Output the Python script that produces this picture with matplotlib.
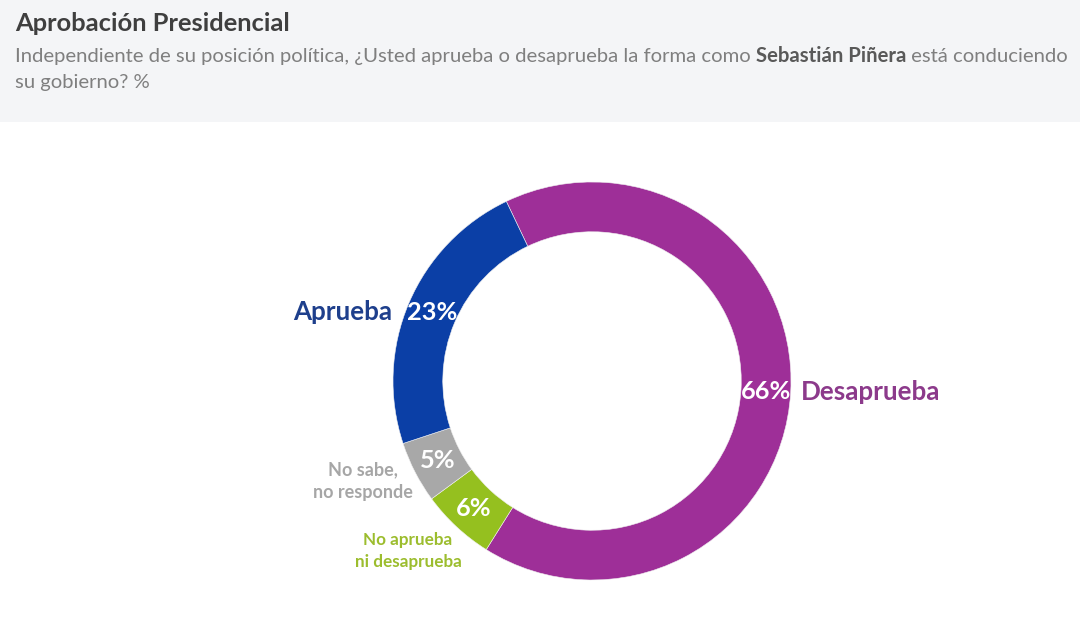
import matplotlib
matplotlib.use("Agg")
import matplotlib.pyplot as plt
from matplotlib.patches import Rectangle
import numpy as np

# ---- data ----
categories = ["Desaprueba", "No aprueba\nni desaprueba", "No sabe,\nno responde", "Aprueba"]
values = [66, 6, 5, 23]
pct_labels = ["66%", "6%", "5%", "23%"]
wedge_colors = ["#9e2f98", "#95c01f", "#a8a8a8", "#0b3fa6"]
label_colors = ["#8c3a8b", "#9cbd2e", "#a6a6a6", "#1e3f8c"]

title = "Aprobación Presidencial"
subtitle_parts = [("Independiente de su posición política, ¿Usted aprueba o desaprueba la forma como ", "normal"),
                  ("Sebastián Piñera", "bold"),
                  (" está conduciendo", "normal")]
subtitle_line2 = "su gobierno? %"

W, H = 1080, 634
FONT = "Lato"
fig = plt.figure(figsize=(W / 100, H / 100), dpi=100)
fig.patch.set_facecolor("white")

# header band
fig.patches.append(Rectangle((0, 1 - 122 / H), 1, 122 / H, transform=fig.transFigure,
                             facecolor="#f4f5f7", edgecolor="none", zorder=0))

renderer = fig.canvas.get_renderer()

def px(x, y):
    return x / W, 1 - y / H

def fit_text(x, y, s, target_w, size, **kw):
    t = fig.text(*px(x, y), s, fontsize=size, family=FONT, va="baseline", ha="left", **kw)
    w = t.get_window_extent(renderer).width
    t.set_fontsize(size * target_w / w)
    return t

fit_text(15, 31, title, 275, 17, color="#3f3f3f", fontweight="bold")

# subtitle line 1 in pieces
size_sub = 13.5
pieces = []
x = 15
for s, wgt in subtitle_parts:
    t = fig.text(*px(x, 62), s, fontsize=size_sub, family=FONT, va="baseline", ha="left",
                 color="#595959" if wgt == "bold" else "#7f7f7f", fontweight=wgt)
    pieces.append(t)
    x += t.get_window_extent(renderer).width
total = x - 15
scale = 1050 / total
x = 15
for t in pieces:
    t.set_fontsize(size_sub * scale)
    t.set_position(px(x, 62))
    x += t.get_window_extent(renderer).width
fig.text(*px(15, 88), subtitle_line2, fontsize=size_sub * scale, family=FONT,
         va="baseline", ha="left", color="#7f7f7f")

# ---- donut ----
cx, cy, R = 592, 381, 199
ax = fig.add_axes([(cx - R) / W, (H - cy - R) / H, 2 * R / W, 2 * R / H])
wedges, texts = ax.pie(values, colors=wedge_colors, startangle=115.5, counterclock=False,
                       radius=1, wedgeprops=dict(width=0.25, edgecolor="#f0f0f0", linewidth=0.4))
ax.set_xlim(-1, 1)
ax.set_ylim(-1, 1)
ax.set_aspect("equal")
ax.axis("off")

r_mid = 0.874
for w, lab in zip(wedges, pct_labels):
    ang = np.deg2rad((w.theta1 + w.theta2) / 2)
    ax.text(r_mid * np.cos(ang), r_mid * np.sin(ang), lab, ha="center", va="center",
            color="white", fontsize=18.3, fontweight="bold", family=FONT)

def d(xp, yp):
    return (xp - cx) / R, (cy - yp) / R

# outer category labels
ax.text(*d(801, 392), categories[0], ha="left", va="center", color=label_colors[0],
        fontsize=18.7, fontweight="bold", family=FONT, clip_on=False)
ax.text(*d(392, 312), categories[3], ha="right", va="center", color=label_colors[3],
        fontsize=18.7, fontweight="bold", family=FONT, clip_on=False)
ax.text(*d(363, 481), categories[2], ha="center", va="center", color=label_colors[2],
        fontsize=13, fontweight="bold", family=FONT, linespacing=1.45, clip_on=False)
ax.text(*d(408, 551), categories[1], ha="center", va="center", color=label_colors[1],
        fontsize=12.3, fontweight="bold", family=FONT, linespacing=1.45, clip_on=False)

fig.savefig("out.png", dpi=100, facecolor="white")
